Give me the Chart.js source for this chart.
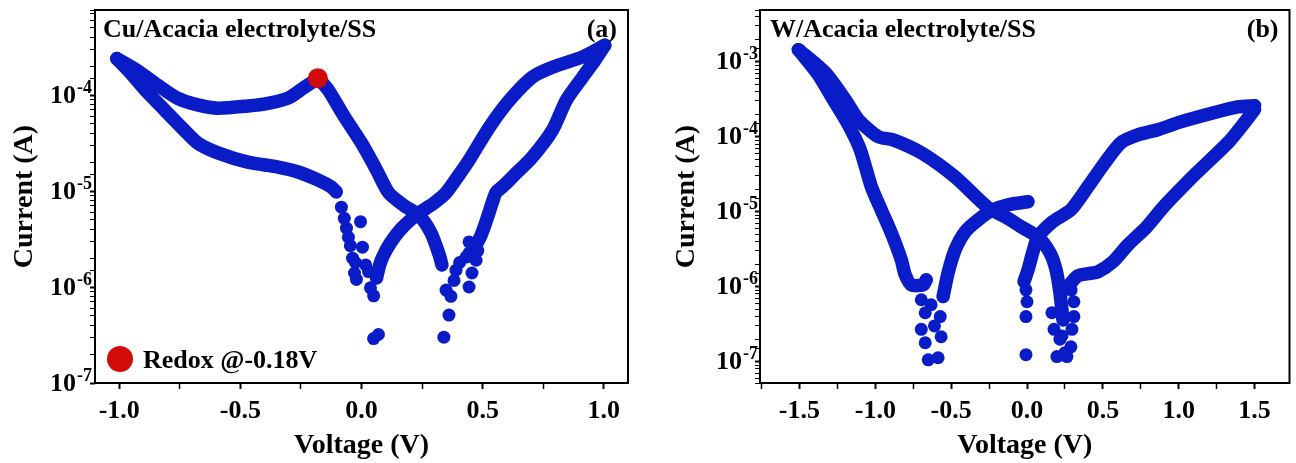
<!DOCTYPE html>
<html>
<head>
<meta charset="utf-8">
<script src="https://cdn.jsdelivr.net/npm/chart.js@4.4.1/dist/chart.umd.min.js"></script>
<style>
  html, body { margin: 0; padding: 0; background: #fff; }
  #wrap { position: relative; width: 1296px; height: 463px; overflow: hidden; }
  canvas { position: absolute; top: 0; }
  #chartA { left: 0; }
  #chartB { left: 660px; }
</style>
</head>
<body>
<div id="wrap">
  <canvas id="chartA" width="640" height="463"></canvas>
  <canvas id="chartB" width="636" height="463"></canvas>
</div>
<script>
// ---- panel (a): Cu/Acacia electrolyte/SS, points are [voltage (V), current (A)]
const cuUpperLeft = [[-1.01,2.4e-4],[-0.925,1.8e-4],[-0.842,1.27e-4],[-0.76,9.3e-5],[-0.676,7.9e-5],[-0.593,7.3e-5],
  [-0.469,7.7e-5],[-0.386,8.2e-5],[-0.303,9.3e-5],[-0.241,1.18e-4],[-0.178,1.5e-4]];
const cuRedoxDrop = [[-0.178,1.5e-4],[-0.137,1.13e-4],[-0.075,6.2e-5],[0,3.16e-5],[0.062,1.66e-5],[0.112,9.6e-6],
  [0.174,7.1e-6],[0.237,5.6e-6],[0.286,3.7e-6],[0.32,2.2e-6],[0.332,1.7e-6]];
const cuLowerLeft = [[-1.01,2.4e-4],[-0.946,1.62e-4],[-0.884,1.07e-4],[-0.813,7e-5],[-0.739,4.5e-5],[-0.676,3.16e-5],
  [-0.593,2.5e-5],[-0.469,2.0e-5],[-0.344,1.78e-5],[-0.261,1.58e-5],[-0.178,1.3e-5],[-0.124,1.1e-5],[-0.104,9.8e-6]];
const cuRiseRight = [[0.062,1.24e-6],[0.075,1.7e-6],[0.091,2.15e-6],[0.12,2.9e-6],[0.166,4.1e-6],[0.237,5.9e-6],
  [0.299,7.5e-6],[0.349,9.6e-6],[0.402,1.47e-5],[0.444,2.1e-5],[0.527,4.6e-5],[0.61,8.8e-5],[0.705,1.54e-4],
  [0.788,1.95e-4],[0.913,2.5e-4],[1.004,3.3e-4]];
const cuFallRight = [[1.004,3.3e-4],[0.963,2.3e-4],[0.913,1.54e-4],[0.846,8.9e-5],[0.788,4.3e-5],[0.705,2.26e-5],
  [0.631,1.47e-5],[0.589,1.15e-5],[0.556,9.7e-6],[0.539,7.5e-6],[0.523,5.6e-6],[0.506,4.2e-6],[0.49,3.3e-6],[0.473,2.75e-6]];
const cuDots = [[-0.083,6.8e-6],[-0.071,5.2e-6],[-0.062,4.1e-6],[-0.054,3.3e-6],[-0.046,2.7e-6],[-0.037,2.0e-6],
  [-0.025,1.8e-6],[-0.029,1.4e-6],[-0.021,1.2e-6],[-0.004,4.8e-6],[0.004,2.6e-6],[0.017,1.7e-6],[0.029,1.45e-6],
  [0.037,9.8e-7],[0.05,8.1e-7],[0.05,2.9e-7],[0.07,3.2e-7],
  [0.349,9.3e-7],[0.361,5.1e-7],[0.34,3.0e-7],[0.369,8e-7],[0.382,1.17e-6],[0.39,1.5e-6],[0.405,1.8e-6],
  [0.444,2.26e-6],[0.444,2.95e-6],[0.473,1.9e-6],[0.456,1.4e-6],[0.444,1.0e-6],[0.432,2.05e-6],[0.48,2.4e-6]];
const cuRedox = [[-0.18,1.5e-4]];

// ---- panel (b): W/Acacia electrolyte/SS
const wReturnNeg = [[0.237,3.6e-7],[0.217,8.3e-7],[0.191,1.69e-6],[0.151,2.84e-6],[0.072,4.6e-6],[-0.039,6.3e-6],
  [-0.145,8.6e-6],[-0.257,1.13e-5],[-0.474,2.9e-5],[-0.697,6.1e-5],[-0.882,9.1e-5],[-0.98,1.0e-4],[-1.112,1.69e-4],
  [-1.197,3.1e-4],[-1.329,7.1e-4],[-1.507,1.45e-3]];
const wDescend = [[-1.507,1.45e-3],[-1.375,6.7e-4],[-1.276,3.1e-4],[-1.178,1.45e-4],[-1.099,6.7e-5],[-1.026,2.15e-5],
  [-0.961,1.06e-5],[-0.895,5.25e-6],[-0.829,2.3e-6],[-0.803,1.45e-6],[-0.763,1.06e-6],[-0.684,1.06e-6],[-0.664,1.24e-6]];
const wRiseToZero = [[-0.553,7.4e-7],[-0.52,1.54e-6],[-0.474,3.1e-6],[-0.408,5.4e-6],[-0.322,7.8e-6],[-0.224,1.06e-5],
  [-0.125,1.24e-5],[0.007,1.36e-5]];
const wForward = [[-0.02,1.17e-6],[0.007,1.69e-6],[0.039,2.93e-6],[0.072,4.6e-6],[0.171,7.4e-6],[0.289,1.06e-5],
  [0.401,2.15e-5],[0.513,4.5e-5],[0.618,8.3e-5],[0.73,1.06e-4],[0.862,1.24e-4],[1.013,1.58e-4],[1.23,2.09e-4],
  [1.388,2.5e-4],[1.5,2.6e-4]];
const wBackward = [[1.5,2.3e-4],[1.342,9.1e-5],[1.118,3.3e-5],[0.901,1.17e-5],[0.789,6.3e-6],[0.664,3.6e-6],
  [0.566,2.15e-6],[0.467,1.58e-6],[0.401,1.49e-6],[0.336,1.4e-6],[0.289,1.13e-6]];
const wDots = [[-0.697,6.7e-7],[-0.671,4.5e-7],[-0.697,2.7e-7],[-0.671,1.79e-7],[-0.651,1.06e-7],[-0.586,1.13e-7],
  [-0.566,2.15e-7],[-0.572,4.0e-7],[-0.553,7.4e-7],[-0.632,5.75e-7],[-0.61,3e-7],
  [-0.007,1.24e-7],[-0.007,4.0e-7],[0,6.3e-7],[-0.007,9.1e-7],
  [0.309,6.3e-7],[0.309,4.0e-7],[0.296,2.7e-7],[0.289,1.58e-7],[0.263,1.17e-7],[0.197,1.17e-7],[0.178,2.7e-7],
  [0.164,4.5e-7],[0.217,2e-7],[0.25,1.32e-7],[0.23,2.2e-7],[0.29,9e-7]];

// axis ranges and tick steps
const cuVoltRange = [-1.1, 1.1];
const cuCurrRange = [1e-7, 7.7e-4];
const wVoltRange = [-1.76, 1.73];
const wCurrRange = [5.2e-8, 4.9e-3];
const voltStep = 0.25;

const BLUE = '#0a1cc8';
const RED = '#d20a0a';
const FONT = '"Liberation Serif", "Times New Roman", serif';

function isDecade(v) {
  const l = Math.log10(v);
  return Math.abs(l - Math.round(l)) < 1e-6;
}
const toXY = arr => arr.map(p => ({ x: p[0], y: p[1] }));

function lineSet(arr) {
  return { data: toXY(arr), showLine: true, borderColor: BLUE, backgroundColor: BLUE, borderWidth: 13.5,
    borderCapStyle: 'round', borderJoinStyle: 'round', tension: 0.25, pointRadius: 0 };
}
function dotSet(arr, r, color) {
  return { data: toXY(arr), showLine: false, pointRadius: r, pointBackgroundColor: color,
    pointBorderWidth: 0, backgroundColor: color };
}

// frame, decade labels with superscripts, panel title, tag, legend
const panelDecor = {
  id: 'panelDecor',
  afterDraw(chart, args, opts) {
    const { ctx, chartArea: a } = chart;
    const ys = chart.scales.y;
    ctx.save();
    ctx.strokeStyle = '#000';
    ctx.lineWidth = 2;
    ctx.strokeRect(a.left, a.top, a.right - a.left, a.bottom - a.top);
    ctx.fillStyle = '#000';

    ys.ticks.forEach(t => {
      if (!isDecade(t.value)) return;
      const y = ys.getPixelForValue(t.value);
      const e = String(Math.round(Math.log10(t.value)));
      ctx.textAlign = 'right';
      ctx.textBaseline = 'middle';
      ctx.font = 'bold 18px ' + FONT;
      const ew = ctx.measureText(e).width;
      const xr = a.left - opts.labelGap;
      ctx.fillText(e, xr, y - 7);
      ctx.font = 'bold 26px ' + FONT;
      ctx.fillText('10', xr - ew - 1, y + 1);
    });

    ctx.font = 'bold 26px ' + FONT;
    ctx.textBaseline = 'alphabetic';
    ctx.textAlign = 'left';
    ctx.fillText(opts.title, a.left + opts.titleDx, a.top + 27);
    ctx.textAlign = 'right';
    ctx.fillText(opts.tag, a.right - 11, a.top + 27);
    if (opts.legend) {
      ctx.fillStyle = RED;
      ctx.beginPath();
      ctx.arc(a.left + 25, a.bottom - 24, 13, 0, Math.PI * 2);
      ctx.fill();
      ctx.fillStyle = '#000';
      ctx.textAlign = 'left';
      ctx.fillText(opts.legend, a.left + 48, a.bottom - 15);
    }
    ctx.restore();
  }
};

function makeChart(id, datasets, xr, yr, yWidth, padRight, decor, yTitlePad) {
  return new Chart(document.getElementById(id), {
    type: 'scatter',
    data: { datasets },
    plugins: [panelDecor],
    options: {
      responsive: false,
      animation: false,
      events: [],
      layout: { padding: { top: 10, right: padRight, left: 0, bottom: 0 } },
      plugins: { legend: { display: false }, tooltip: { enabled: false }, panelDecor: decor },
      scales: {
        x: {
          type: 'linear', min: xr[0], max: xr[1],
          afterFit: s => { s.height = 80; },
          border: { display: false },
          grid: { drawOnChartArea: false, tickLength: 6, tickColor: '#000',
            tickWidth: c => (Math.abs(c.tick.value * 2 - Math.round(c.tick.value * 2)) < 1e-6 ? 2 : 1.5) },
          ticks: {
            stepSize: voltStep, includeBounds: false, autoSkip: false, maxRotation: 0, padding: 7,
            color: '#000', font: { family: FONT, size: 26, weight: 'bold' },
            callback: v => (Math.abs(v * 2 - Math.round(v * 2)) < 1e-6 ? v.toFixed(1) : '')
          },
          title: { display: true, text: 'Voltage (V)', color: '#000', padding: { top: 0, bottom: 0 },
            font: { family: FONT, size: 28, weight: 'bold' } }
        },
        y: {
          type: 'logarithmic', min: yr[0], max: yr[1],
          afterFit: s => { s.width = yWidth; },
          border: { display: false },
          grid: { drawOnChartArea: false, tickLength: 5, tickColor: '#000',
            tickWidth: c => (isDecade(c.tick.value) ? 2 : 1) },
          ticks: { autoSkip: false, padding: 0, callback: () => '' },
          title: { display: true, text: 'Current (A)', color: '#000', padding: { top: yTitlePad, bottom: 0 },
            font: { family: FONT, size: 28, weight: 'bold' } }
        }
      }
    }
  });
}

makeChart('chartA', [
  dotSet(cuRedox, 10, RED),
  lineSet(cuUpperLeft), lineSet(cuRedoxDrop), lineSet(cuLowerLeft), lineSet(cuRiseRight), lineSet(cuFallRight),
  dotSet(cuDots, 6.5, BLUE)
], cuVoltRange, cuCurrRange, 95, 12,
  { title: 'Cu/Acacia electrolyte/SS', tag: '(a)', titleDx: 8, labelGap: 3, legend: 'Redox @-0.18V' }, 8);

makeChart('chartB', [
  lineSet(wReturnNeg), lineSet(wDescend), lineSet(wRiseToZero), lineSet(wForward), lineSet(wBackward),
  dotSet(wDots, 6.5, BLUE)
], wVoltRange, wCurrRange, 100, 2,
  { title: 'W/Acacia electrolyte/SS', tag: '(b)', titleDx: 10, labelGap: 2 }, 10);
</script>
</body>
</html>
